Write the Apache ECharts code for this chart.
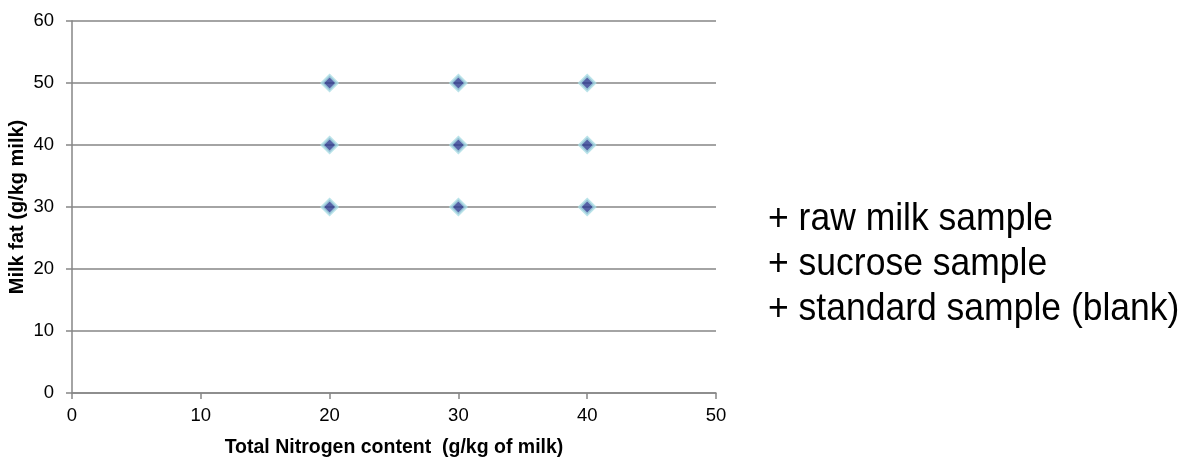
<!DOCTYPE html>
<html>
<head>
<meta charset="utf-8">
<script src="https://cdn.jsdelivr.net/npm/echarts@6/dist/echarts.min.js"></script>
<style>
html,body{margin:0;padding:0;background:#fff;}
#chart{width:1184px;height:457px;}
</style>
</head>
<body>
<div id="chart"></div>
<script>
// Data
const xValues = [20, 30, 40, 20, 30, 40, 20, 30, 40];
const yValues = [50, 50, 50, 40, 40, 40, 30, 30, 30];
const xAxisTitle = 'Total Nitrogen content  (g/kg of milk)';
const yAxisTitle = 'Milk fat (g/kg milk)';
const legendLines = ['+ raw milk sample', '+ sucrose sample', '+ standard sample (blank)'];

const points = xValues.map((x, i) => [x, yValues[i]]);
const font = '"Liberation Sans", Arial, sans-serif';

const chart = echarts.init(document.getElementById('chart'), null, {renderer: 'canvas'});
chart.setOption({
  animation: false,
  backgroundColor: '#ffffff',
  grid: {left: 72, right: 468, top: 21, bottom: 64, containLabel: false, outerBoundsMode: 'none'},
  xAxis: {
    type: 'value', min: 0, max: 50, interval: 10,
    name: xAxisTitle, nameLocation: 'middle', nameGap: 45, nameMoveOverlap: false,
    nameTextStyle: {fontFamily: font, fontWeight: 'bold', fontSize: 19.5, color: '#000'},
    axisLine: {show: true, lineStyle: {color: '#868686', width: 1.5}},
    axisTick: {show: true, inside: false, length: 6, lineStyle: {color: '#868686', width: 1.5}},
    axisLabel: {margin: 13, fontFamily: font, fontSize: 18.5, color: '#000'},
    splitLine: {show: false}
  },
  yAxis: {
    type: 'value', min: 0, max: 60, interval: 10,
    name: yAxisTitle, nameLocation: 'middle', nameGap: 45, nameRotate: 90, nameMoveOverlap: false,
    nameTextStyle: {fontFamily: font, fontWeight: 'bold', fontSize: 20, color: '#000'},
    axisLine: {show: true, lineStyle: {color: '#868686', width: 1.5}},
    axisTick: {show: true, inside: false, length: 6, lineStyle: {color: '#868686', width: 1.5}},
    axisLabel: {margin: 18, fontFamily: font, fontSize: 18.5, color: '#000'},
    splitLine: {show: true, lineStyle: {color: '#868686', width: 1.5}}
  },
  series: [{
    type: 'scatter',
    data: points,
    symbol: 'diamond',
    symbolSize: 15,
    itemStyle: {color: '#2B3990', borderColor: '#A9DCE3', borderWidth: 3}
  }],
  graphic: legendLines.map((t, i) => ({
    type: 'text',
    left: 768,
    top: 199 + i * 45,
    scaleY: 1.1,
    style: {text: t, fontFamily: font, fontSize: 35.5, fill: '#000'}
  }))
});
</script>
</body>
</html>
